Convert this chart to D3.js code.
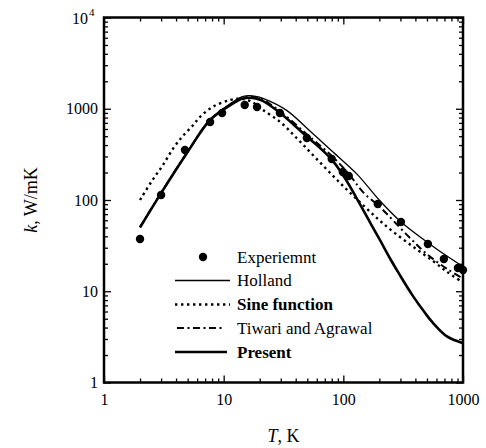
<!DOCTYPE html>
<html>
<head>
<meta charset="utf-8">
<script src="https://cdn.jsdelivr.net/npm/d3@7"></script>
<style>
  html, body { margin: 0; padding: 0; background: #fff; }
  svg { display: block; }
  text { font-family: "Liberation Serif", "Times New Roman", "DejaVu Serif", serif; fill: #000; }
</style>
</head>
<body>
<script>
// ---- Data ----
const expT = [2, 3, 4.75, 7.7, 9.7, 15, 19, 29.5, 49.6, 80, 99, 111, 194, 303, 509, 692, 907, 1000];
const expK = [37.4, 113.5, 353, 716, 898, 1099, 1045, 898, 478, 281, 203, 183, 90.4, 57.4, 32.9, 22.6, 18, 17.1];

const hollandT = [2, 3, 5, 7.7, 11.3, 14, 16, 18.5, 21.3, 33.6, 52.6, 82, 130, 202, 297, 499, 734, 1000];
const hollandK = [50.6, 120, 340, 760, 1130, 1340, 1390, 1370, 1300, 960, 570, 335, 192, 98, 59, 34.7, 24.3, 18.6];

const sineT = [2, 2.5, 3.11, 3.8, 4.57, 5.5, 6.34, 8.14, 11.3, 13.7, 17, 21.3, 29.5, 40.7, 55.7, 77, 107, 150, 200, 260, 380, 560, 750, 1000];
const sineK = [100, 160, 242, 370, 505, 650, 812, 1053, 1247, 1290, 1200, 969, 721, 478, 311, 200, 130, 85, 60, 45, 31, 21.5, 16, 12.5];

const tiwariT = [2, 3, 5, 7.7, 11.3, 14, 16, 18.5, 21, 30, 50, 82, 114, 146, 202, 340, 500, 750, 1000];
const tiwariK = [50.6, 120, 338, 755, 1110, 1310, 1355, 1335, 1270, 925, 520, 295, 185, 122, 84, 41.5, 25.5, 17.3, 13.8];

const presentT = [2, 3, 5, 7.7, 11.3, 14, 16, 18.5, 21, 29.5, 50, 64, 82, 103, 130, 167, 202, 245, 297, 381, 481, 561, 734, 1000];
const presentK = [50, 119, 336, 753, 1090, 1280, 1320, 1300, 1230, 905, 490, 371, 267, 174, 103, 57, 36.5, 23, 15, 8.9, 5.8, 4.5, 3.2, 2.7];

const xTickLabels = [1, 10, 100, 1000];
const yTickLabels = [1, 10, 100, 1000];
const legendLabels = ["Experiemnt", "Holland", "Sine function", "Tiwari and Agrawal", "Present"];

// ---- Layout ----
const W = 486, H = 448;
const L = 104, R = 463, T = 17.5, B = 382.5;
const FONT = "'Liberation Serif', 'Times New Roman', 'DejaVu Serif', serif";

const svg = d3.select("body").append("svg").attr("width", W).attr("height", H);

const x = d3.scaleLog().domain([1, 1000]).range([L, R]);
const y = d3.scaleLog().domain([1, 10000]).range([B, T]);

function minorTicks(lo, hi) {
  const out = [];
  for (let d = lo; d < hi; d *= 10) for (let m = 2; m <= 9; m++) out.push(d * m);
  return out;
}
const xMajor = [1, 10, 100, 1000], xMinor = minorTicks(1, 1000);
const yMajor = [1, 10, 100, 1000, 10000], yMinor = minorTicks(1, 10000);

const MAJ = 7, MIN = 4;

function styleAxis(g) {
  g.attr("font-family", FONT);
  g.select(".domain").remove();
  g.selectAll(".tick line").attr("stroke", "#000").attr("stroke-width", 1.3);
}

// bottom
svg.append("g").attr("transform", `translate(0,${B})`)
  .call(d3.axisBottom(x).tickValues(xMinor).tickFormat("").tickSizeInner(-MIN).tickSizeOuter(0)).call(styleAxis);
svg.append("g").attr("transform", `translate(0,${B})`)
  .call(d3.axisBottom(x).tickValues(xTickLabels).tickFormat(d3.format("d")).tickSizeInner(-MAJ).tickSizeOuter(0).tickPadding(11))
  .call(styleAxis)
  .call(g => g.selectAll("text").attr("font-size", 16).attr("font-family", FONT));
// top
svg.append("g").attr("transform", `translate(0,${T})`)
  .call(d3.axisTop(x).tickValues(xMinor).tickFormat("").tickSizeInner(-MIN).tickSizeOuter(0)).call(styleAxis);
svg.append("g").attr("transform", `translate(0,${T})`)
  .call(d3.axisTop(x).tickValues(xMajor).tickFormat("").tickSizeInner(-MAJ).tickSizeOuter(0)).call(styleAxis);
// left
svg.append("g").attr("transform", `translate(${L},0)`)
  .call(d3.axisLeft(y).tickValues(yMinor).tickFormat("").tickSizeInner(-MIN).tickSizeOuter(0)).call(styleAxis);
svg.append("g").attr("transform", `translate(${L},0)`)
  .call(d3.axisLeft(y).tickValues(yMajor).tickFormat(d => yTickLabels.includes(d) ? d3.format("d")(d) : "")
        .tickSizeInner(-MAJ).tickSizeOuter(0).tickPadding(6))
  .call(styleAxis)
  .call(g => g.selectAll("text").attr("font-size", 16).attr("font-family", FONT));
// right
svg.append("g").attr("transform", `translate(${R},0)`)
  .call(d3.axisRight(y).tickValues(yMinor).tickFormat("").tickSizeInner(-MIN).tickSizeOuter(0)).call(styleAxis);
svg.append("g").attr("transform", `translate(${R},0)`)
  .call(d3.axisRight(y).tickValues(yMajor).tickFormat("").tickSizeInner(-MAJ).tickSizeOuter(0)).call(styleAxis);

// 10^4 label
svg.append("text").attr("x", L - 16).attr("y", y(10000) + 6)
  .attr("text-anchor", "end").attr("font-size", 16).attr("font-family", FONT).text("10");
svg.append("text").attr("x", L - 15).attr("y", y(10000) - 2)
  .attr("font-size", 11).attr("font-family", FONT).text("4");

// frame
svg.append("rect").attr("x", L).attr("y", T).attr("width", R - L).attr("height", B - T)
  .attr("fill", "none").attr("stroke", "#000").attr("stroke-width", 2.5);

// ---- Curves ----
const line = d3.line().x(d => x(d[0])).y(d => y(d[1])).curve(d3.curveCatmullRom.alpha(0.5));
const zip = (a, b) => a.map((v, i) => [v, b[i]]);

const plot = svg.append("g");
plot.append("path").datum(zip(hollandT, hollandK)).attr("d", line)
  .attr("fill", "none").attr("stroke", "#000").attr("stroke-width", 1.3);
plot.append("path").datum(zip(sineT, sineK)).attr("d", line)
  .attr("fill", "none").attr("stroke", "#000").attr("stroke-width", 2.4)
  .attr("stroke-dasharray", "2.4,3.6");
plot.append("path").datum(zip(tiwariT, tiwariK)).attr("d", line)
  .attr("fill", "none").attr("stroke", "#000").attr("stroke-width", 2)
  .attr("stroke-dasharray", "7,3.5,2,3.5");
plot.append("path").datum(zip(presentT, presentK)).attr("d", line)
  .attr("fill", "none").attr("stroke", "#000").attr("stroke-width", 2.6);

plot.selectAll("circle.exp").data(zip(expT, expK)).enter().append("circle")
  .attr("class", "exp").attr("cx", d => x(d[0])).attr("cy", d => y(d[1])).attr("r", 4.2).attr("fill", "#000");

// ---- Legend ----
const legY = [257, 280.5, 304.5, 328, 352];
const lx0 = 175, lx1 = 230, tx = 237;
const leg = svg.append("g");
leg.append("circle").attr("cx", 203).attr("cy", legY[0]).attr("r", 4.2).attr("fill", "#000");
leg.append("line").attr("x1", lx0).attr("x2", lx1).attr("y1", legY[1]).attr("y2", legY[1])
  .attr("stroke", "#000").attr("stroke-width", 1.3);
leg.append("line").attr("x1", lx0).attr("x2", lx1).attr("y1", legY[2]).attr("y2", legY[2])
  .attr("stroke", "#000").attr("stroke-width", 2.4).attr("stroke-dasharray", "2.4,3.6");
leg.append("line").attr("x1", lx0 + 2).attr("x2", lx1 - 8).attr("y1", legY[3]).attr("y2", legY[3])
  .attr("stroke", "#000").attr("stroke-width", 2).attr("stroke-dasharray", "7,3.5,2,3.5");
leg.append("line").attr("x1", lx0).attr("x2", lx1 - 3).attr("y1", legY[4]).attr("y2", legY[4])
  .attr("stroke", "#000").attr("stroke-width", 2.6);
leg.selectAll("text").data(legendLabels).enter().append("text")
  .attr("x", tx).attr("y", (d, i) => legY[i] + 5.5)
  .attr("font-size", 17).attr("font-family", FONT)
  .attr("font-weight", (d, i) => (i === 2 || i === 4) ? "bold" : "normal")
  .text(d => d);

// ---- Axis titles ----
const xt = svg.append("text").attr("x", (L + R) / 2).attr("y", 442).attr("text-anchor", "middle")
  .attr("font-size", 18).attr("font-family", FONT);
xt.append("tspan").attr("font-style", "italic").text("T");
xt.append("tspan").text(", K");

const yt = svg.append("text").attr("transform", `translate(37,${(T + B) / 2}) rotate(-90)`)
  .attr("text-anchor", "middle").attr("font-size", 18).attr("font-family", FONT);
yt.append("tspan").attr("font-style", "italic").text("k");
yt.append("tspan").text(", W/mK");
</script>
</body>
</html>
